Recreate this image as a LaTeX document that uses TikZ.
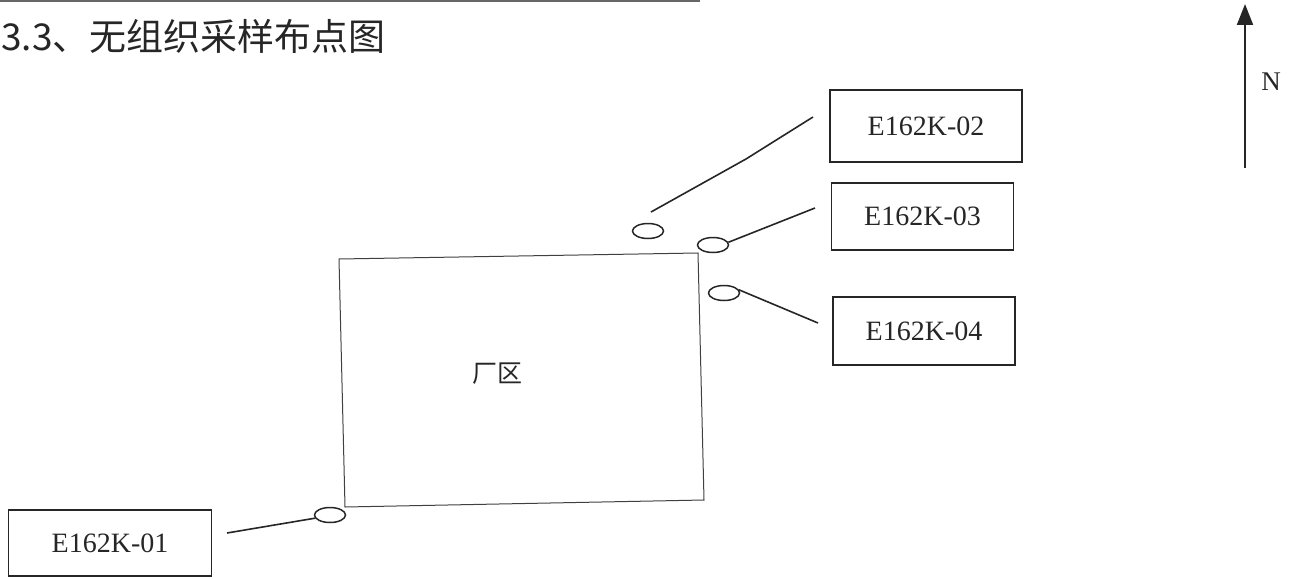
\documentclass[tikz,border=0pt]{standalone}
\usepackage{fontspec}
\setmainfont{Liberation Serif}
\newfontfamily\cjk{Noto Sans CJK SC}
\usetikzlibrary{arrows.meta,shapes.geometric}
\tikzset{
  labelbox/.style={draw=black!85, line width=1.6pt, rectangle, inner sep=0pt,
    font=\fontsize{28}{30}\selectfont, text=black!85},
  samplept/.style={draw=black!85, line width=1.5pt, ellipse, inner sep=0pt,
    minimum width=31pt, minimum height=15pt},
  leader/.style={draw=black!85, line width=1.6pt},
}
\begin{document}
\begin{tikzpicture}[x=1pt,y=-1pt]
\useasboundingbox (0,0) rectangle (1292,578);
% top scan border
\draw[black!60, line width=2pt] (0,1) -- (700,1);
% title
\node[anchor=west, inner sep=0pt, font=\cjk\fontsize{37}{40}\selectfont, text=black!85] (title) at (1,36) {3.3、无组织采样布点图};
% plant area
\coordinate (ptl) at (339,259);
\coordinate (ptr) at (698,253);
\coordinate (pbr) at (704,500);
\coordinate (pbl) at (345,507);
\draw[black!75, line width=1pt] (ptl) -- (ptr) -- (pbr) -- (pbl) -- cycle;
\node[font=\cjk\fontsize{25}{28}\selectfont, text=black!85] (area) at (497,374) {厂区};
% sample points
\node[samplept] (e1) at (330,515) {};
\node[samplept] (e2) at (648,231) {};
\node[samplept] (e3) at (713,245) {};
\node[samplept] (e4) at (724,293) {};
% label boxes
\node[labelbox, minimum width=192pt, minimum height=72pt] (b2) at (926,126) {E162K-02};
\node[labelbox, minimum width=182pt, minimum height=67pt] (b3) at (922.5,216.7) {E162K-03};
\node[labelbox, minimum width=182pt, minimum height=68pt] (b4) at (924,331) {E162K-04};
\node[labelbox, minimum width=203pt, minimum height=66pt] (b1) at (110,543) {E162K-01};
% leader lines
\coordinate (c2a) at (651,212);
\coordinate (c2m) at (746,159);
\coordinate (c2b) at (813,117);
\draw[leader] (c2a) -- (c2m) -- (c2b);
\coordinate (c3) at (815,208);
\draw[leader] (e3.10) -- (c3);
\coordinate (c4) at (818,323);
\draw[leader] (e4.12) -- (c4);
\coordinate (c1) at (227,533);
\draw[leader] (c1) -- (e1.192);
% north arrow
\coordinate (nb) at (1245,168);
\coordinate (nt) at (1245,4);
\draw[black!85, line width=2pt, -{Triangle[length=21pt,width=16pt]}] (nb) -- (nt);
\node[font=\fontsize{27}{28}\selectfont, text=black!85] (north) at (1271,82) {N};
\end{tikzpicture}
\end{document}
